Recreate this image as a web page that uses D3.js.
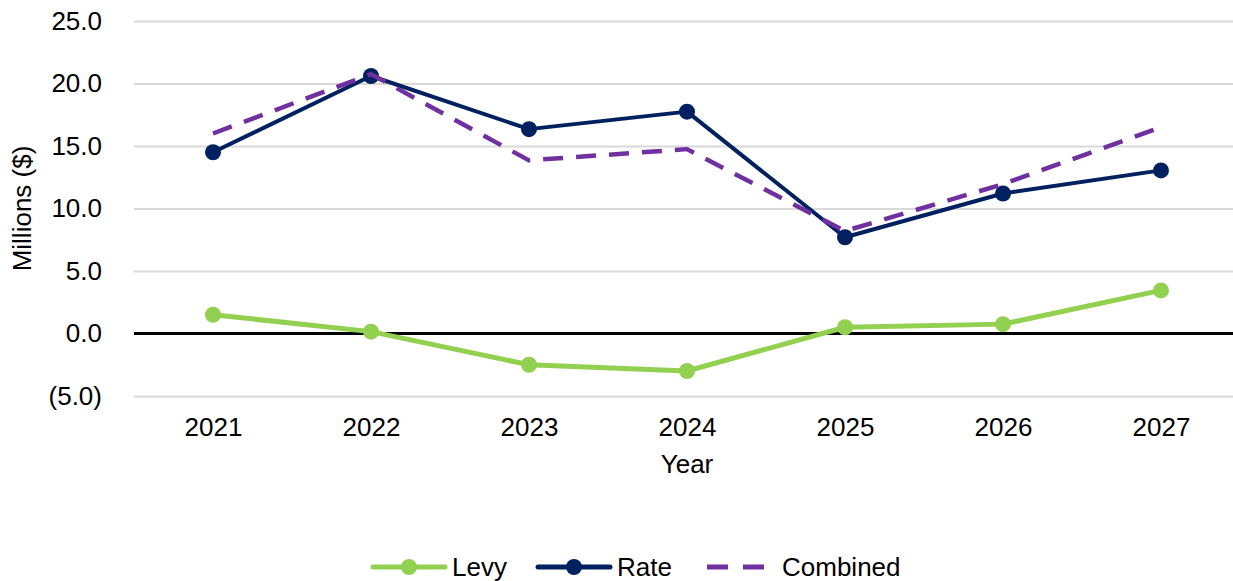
<!DOCTYPE html>
<html>
<head>
<meta charset="utf-8">
<script src="https://cdn.jsdelivr.net/npm/d3@7/dist/d3.min.js"></script>
<style>
  html, body { margin: 0; padding: 0; background: #fff; }
  svg text { font-family: "Liberation Sans", Arial, sans-serif; fill: #000; }
</style>
</head>
<body>
<div id="chart"></div>
<script>
// Data (millions of dollars)
const years = ['2021', '2022', '2023', '2024', '2025', '2026', '2027'];
const levy = [1.5, 0.15, -2.5, -3.0, 0.5, 0.75, 3.45];
const rate = [14.5, 20.6, 16.35, 17.75, 7.7, 11.2, 13.05];
const combined = [16.0, 20.75, 13.85, 14.75, 8.2, 11.95, 16.5];
const yTicks = [-5, 0, 5, 10, 15, 20, 25];

const W = 1233, H = 581;
const plot = { left: 134, right: 1240, top: 21, bottom: 396 };
const FS = 26;

const svg = d3.select('#chart').append('svg')
  .attr('width', W).attr('height', H)
  .attr('viewBox', `0 0 ${W} ${H}`);

const x = d3.scalePoint().domain(years).range([plot.left, plot.right]).padding(0.5);
const y = d3.scaleLinear().domain([-5, 25]).range([plot.bottom, plot.top]);

const fmt = (v) => v < 0 ? `(${d3.format('.1f')(-v)})` : d3.format('.1f')(v);

// Gridlines + y labels
const yAxisG = svg.append('g').attr('transform', `translate(${plot.left},0)`);
yAxisG.call(d3.axisLeft(y).tickValues(yTicks).tickSize(-(W - plot.left)).tickPadding(32).tickFormat(fmt));
yAxisG.select('.domain').remove();
yAxisG.selectAll('line').attr('stroke', '#d9d9d9').attr('stroke-width', 2);
yAxisG.selectAll('text').attr('font-size', FS).attr('fill', '#000');

// Zero line
svg.append('line')
  .attr('x1', plot.left).attr('x2', W)
  .attr('y1', y(0)).attr('y2', y(0))
  .attr('stroke', '#000').attr('stroke-width', 3);

// x labels
const xAxisG = svg.append('g').attr('transform', `translate(0,${plot.bottom})`);
xAxisG.call(d3.axisBottom(x).tickSize(0).tickPadding(22));
xAxisG.select('.domain').remove();
xAxisG.selectAll('text').attr('font-size', FS).attr('fill', '#000');

// Axis titles
svg.append('text').attr('x', x('2024')).attr('y', 473)
  .attr('text-anchor', 'middle').attr('font-size', FS).text('Year');
svg.append('text')
  .attr('transform', `translate(31,${(plot.top + plot.bottom) / 2}) rotate(-90)`)
  .attr('text-anchor', 'middle').attr('font-size', FS).text('Millions ($)');

const line = d3.line().x((d, i) => x(years[i])).y((d) => y(d));

const series = [
  { name: 'Levy', values: levy, color: '#92d050', width: 5, dash: null, marker: true },
  { name: 'Rate', values: rate, color: '#002060', width: 4, dash: null, marker: true },
  { name: 'Combined', values: combined, color: '#7030a0', width: 4.5, dash: '20,13', marker: false },
];

series.forEach((s) => {
  svg.append('path')
    .datum(s.values)
    .attr('d', line)
    .attr('fill', 'none')
    .attr('stroke', s.color)
    .attr('stroke-width', s.width)
    .attr('stroke-dasharray', s.dash)
    .attr('stroke-linejoin', 'round');
  if (s.marker) {
    svg.append('g').selectAll('circle')
      .data(s.values)
      .join('circle')
      .attr('cx', (d, i) => x(years[i]))
      .attr('cy', (d) => y(d))
      .attr('r', 8)
      .attr('fill', s.color);
  }
});

// Legend
const legendY = 567;
const legendItems = [
  { s: series[0], x0: 373, tx: 452 },
  { s: series[1], x0: 538, tx: 617 },
  { s: series[2], x0: 707, tx: 782 },
];
legendItems.forEach(({ s, x0, tx }) => {
  const g = svg.append('g');
  g.append('line')
    .attr('x1', x0).attr('x2', x0 + (s.dash ? 58 : 72))
    .attr('y1', legendY).attr('y2', legendY)
    .attr('stroke', s.color).attr('stroke-width', 5)
    .attr('stroke-dasharray', s.dash ? '21,15' : null)
    .attr('stroke-linecap', s.dash ? 'butt' : 'round');
  if (s.marker) {
    g.append('circle').attr('cx', x0 + 36).attr('cy', legendY).attr('r', 8).attr('fill', s.color);
  }
  g.append('text').attr('x', tx).attr('y', legendY + 9).attr('font-size', FS).text(s.name);
});
</script>
</body>
</html>
